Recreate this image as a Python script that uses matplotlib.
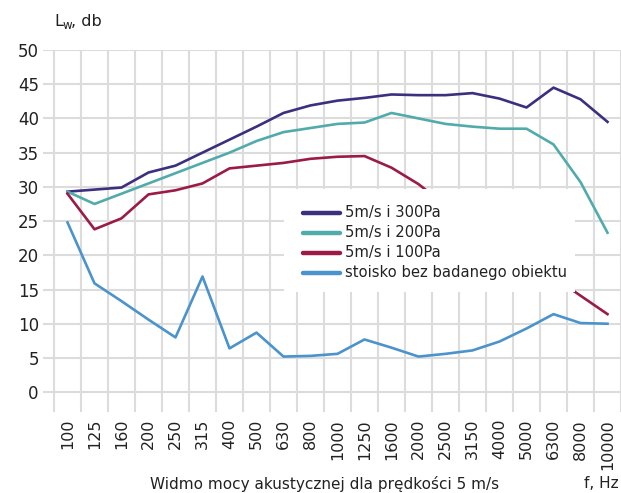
import matplotlib
matplotlib.use("Agg")
import matplotlib.pyplot as plt
from matplotlib.patches import Rectangle
from matplotlib.lines import Line2D
import numpy as np

freqs = ["100", "125", "160", "200", "250", "315", "400", "500", "630", "800",
         "1000", "1250", "1600", "2000", "2500", "3150", "4000", "5000", "6300",
         "8000", "10000"]

p300 = [29.3, 29.6, 29.9, 32.1, 33.1, 35.0, 36.9, 38.8, 40.8, 41.9, 42.6, 43.0,
        43.5, 43.4, 43.4, 43.7, 42.9, 41.6, 44.5, 42.8, 39.5]
p200 = [29.3, 27.5, 29.0, 30.5, 32.0, 33.5, 35.0, 36.7, 38.0, 38.6, 39.2, 39.4,
        40.8, 40.0, 39.2, 38.8, 38.5, 38.5, 36.2, 30.7, 23.3]
p100 = [29.0, 23.8, 25.4, 28.9, 29.5, 30.5, 32.7, 33.1, 33.5, 34.1, 34.4, 34.5,
        32.8, 30.4, 27.3, 24.3, 21.6, 19.1, 16.8, 14.1, 11.4]
stoisko = [24.8, 15.9, 13.3, 10.6, 8.0, 16.9, 6.4, 8.7, 5.2, 5.3, 5.6, 7.7,
           6.5, 5.2, 5.6, 6.1, 7.4, 9.3, 11.4, 10.1, 10.0]

labels = ["5m/s i 300Pa", "5m/s i 200Pa", "5m/s i 100Pa", "stoisko bez badanego obiektu"]
colors = ["#3b2f80", "#52abab", "#9b1a47", "#4b93cc"]
series = [p300, p200, p100, stoisko]

W, H = 621, 493
fig = plt.figure(figsize=(W / 100, H / 100), dpi=100)
plt.rcParams['font.family'] = ['DejaVu Sans']

left, right, top, bottom = 43, 621, 50, 412
ax = fig.add_axes([left / W, 1 - bottom / H, (right - left) / W, (bottom - top) / H])

x = np.arange(len(freqs))
for ys, c in zip(series, colors):
    ax.plot(x, ys, color=c, lw=1.9, solid_joinstyle='round', zorder=3)

ax.set_ylim(-2.9, 50)
ax.set_xlim(-0.5 - 11 / 27.0, 20.5)

# grid
for yv in range(0, 51, 5):
    ax.axhline(yv, color="#dcdcdc", lw=1.5, zorder=1)
for xv in np.arange(-0.5, 20.6, 1.0):
    ax.axvline(xv, color="#dcdcdc", lw=1.5, zorder=1)

for s in ax.spines.values():
    s.set_visible(False)

ax.set_yticks(range(0, 51, 5))
ax.set_yticklabels([str(v) for v in range(0, 51, 5)], fontsize=12, color="#222222")
ax.tick_params(axis='y', length=0, pad=3)
ax.set_xticks(x)
ax.set_xticklabels(freqs, rotation=90, fontsize=11.5, color="#222222", va='top')
ax.tick_params(axis='x', length=0, pad=5)

# legend box (white, covering lines)
bx0, by0 = 284, 189
bx1, by1 = 575, 292
rect = Rectangle((bx0, H - by1), bx1 - bx0, by1 - by0, transform=None,
                 facecolor="white", edgecolor="none", zorder=5)
ax.add_artist(rect)
rows = [213, 233, 253, 273]
for yy, c, lab in zip(rows, colors, labels):
    ax.add_artist(Line2D([303, 340], [H - yy, H - yy], transform=None,
                         color=c, lw=3.2, solid_capstyle='round', zorder=6))
    ax.text(345, H - yy, lab, transform=None, fontsize=10.6, va='center',
            ha='left', color="#222222", zorder=7)

# axis labels
fig.text(54 / W, 1 - 22 / H, "L", fontsize=11.5, va='center', ha='left', color="#222222")
fig.text(62.5 / W, 1 - 25.5 / H, "w", fontsize=8.5, va='center', ha='left', color="#222222")
fig.text(71 / W, 1 - 22 / H, ", db", fontsize=11.5, va='center', ha='left', color="#222222")

fig.text(325 / W, 1.5 / H, "Widmo mocy akustycznej dla prędkości 5 m/s",
         fontsize=11, va='bottom', ha='center', color="#222222")
fig.text(619 / W, 1.5 / H, "f, Hz", fontsize=11, va='bottom', ha='right', color="#222222")

fig.savefig("out.png", dpi=100)
